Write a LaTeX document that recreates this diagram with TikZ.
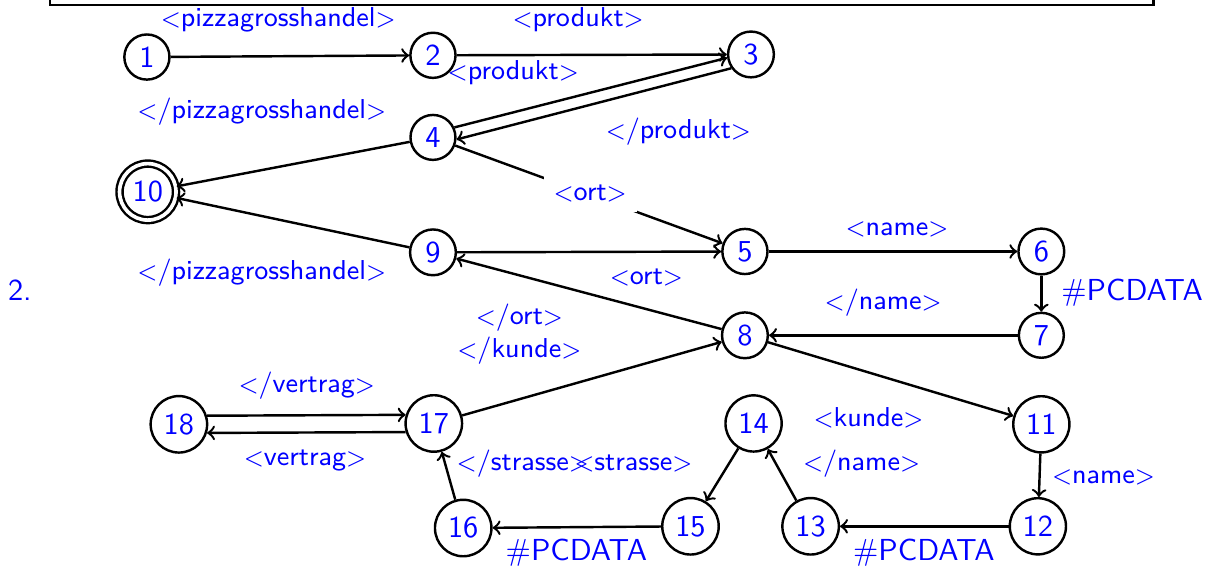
\documentclass[tikz,border=0pt]{standalone}
\newcommand{\otag}[1]{{\footnotesize\textless}#1{\footnotesize\textgreater}}
\newcommand{\ctag}[1]{{\footnotesize\textless}/#1{\footnotesize\textgreater}}
\begin{document}
\begin{tikzpicture}[
 font=\sffamily,
 st/.style={draw,circle,thick,text=blue,inner sep=2.3pt,minimum size=.52cm},
 fin/.style={st,double,double distance=1.2pt},
 lab/.style={text=blue,font=\sffamily\small},
 big/.style={text=blue},
 tr/.style={->,thick},
 ]
 \useasboundingbox (0,0) rectangle (13.99,6.60);
 \draw[thick] (0.58,6.8) -- (0.58,6.54) -- (13.35,6.54) -- (13.35,6.8);

 \node[big] (nr) at (0.23,3.24) {2.};

 % Zustaende
 \node[st]  (n1)  at (1.70,5.94) {1};
 \node[st]  (n2)  at (5.01,5.96) {2};
 \node[st]  (n3)  at (8.69,5.97) {3};
 \node[st]  (n4)  at (5.01,5.01) {4};
 \node[fin] (n10) at (1.71,4.38) {10};
 \node[st]  (n9)  at (5.01,3.68) {9};
 \node[st]  (n5)  at (8.62,3.69) {5};
 \node[st]  (n6)  at (12.05,3.69) {6};
 \node[st]  (n7)  at (12.05,2.72) {7};
 \node[st]  (n8)  at (8.62,2.72) {8};
 \node[st]  (n11) at (12.05,1.69) {11};
 \node[st]  (n12) at (12.01,0.51) {12};
 \node[st]  (n13) at (9.38,0.51) {13};
 \node[st]  (n14) at (8.72,1.70) {14};
 \node[st]  (n15) at (7.99,0.51) {15};
 \node[st]  (n16) at (5.36,0.49) {16};
 \node[st]  (n17) at (5.02,1.70) {17};
 \node[st]  (n18) at (2.07,1.69) {18};

 % Uebergaenge
 \draw[tr] (n1) -- (n2);
 \draw[tr] (n2) -- (n3);
 \draw[tr] (n4.25) -- (n3.188);
 \draw[tr] (n3.215) -- (n4.355);
 \draw[tr] (n4) -- (n10);
 \draw[tr] (n4) -- (n5);
 \draw[tr] (n9) -- (n10);
 \draw[tr] (n9) -- (n5);
 \draw[tr] (n5) -- (n6);
 \draw[tr] (n6) -- (n7);
 \draw[tr] (n7) -- (n8);
 \draw[tr] (n8) -- (n9);
 \draw[tr] (n8) -- (n11);
 \draw[tr] (n11) -- (n12);
 \draw[tr] (n12) -- (n13);
 \draw[tr] (n13) -- (n14);
 \draw[tr] (n14) -- (n15);
 \draw[tr] (n15) -- (n16);
 \draw[tr] (n16) -- (n17);
 \draw[tr] (n17) -- (n8);
 \draw[tr] (n18.17) -- (n17.163);
 \draw[tr] (n17.197) -- (n18.343);

 % Beschriftung
 \node[lab] (l12)  at (3.22,6.37) {\otag{pizzagrosshandel}};
 \node[lab] (l23)  at (6.69,6.37) {\otag{produkt}};
 \node[lab] (l43)  at (5.94,5.76) {\otag{produkt}};
 \node[lab] (l410) at (3.03,5.31) {\ctag{pizzagrosshandel}};
 \node[lab] (l34)  at (7.85,5.08) {\ctag{produkt}};
 \node[lab,fill=white] (l45) at (6.83,4.36) {\otag{ort}};
 \node[lab] (l910) at (3.03,3.45) {\ctag{pizzagrosshandel}};
 \node[lab] (l56)  at (10.38,3.95) {\otag{name}};
 \node[lab] (l89)  at (7.48,3.39) {\otag{ort}};
 \node[big] (l67)  at (13.10,3.21) {\#PCDATA};
 \node[lab] (l78)  at (10.22,3.10) {\ctag{name}};
 \node[lab,align=center] (l178) at (6.01,2.73) {\ctag{ort}\\\ctag{kunde}};
 \node[lab] (l1817) at (3.55,2.14) {\ctag{vertrag}};
 \node[lab] (l811) at (10.05,1.77) {\otag{kunde}};
 \node[lab] (l1314) at (9.97,1.24) {\ctag{name}};
 \node[lab] (l1718) at (3.53,1.27) {\otag{vertrag}};
 \node[lab] (l1617) at (6.05,1.24) {\ctag{strasse}};
 \node[lab] (l1415) at (7.33,1.24) {\otag{strasse}};
 \node[lab] (l1112) at (12.77,1.08) {\otag{name}};
 \node[big] (l1516) at (6.67,0.20) {\#PCDATA};
 \node[big] (l1213) at (10.69,0.20) {\#PCDATA};
\end{tikzpicture}
\end{document}
